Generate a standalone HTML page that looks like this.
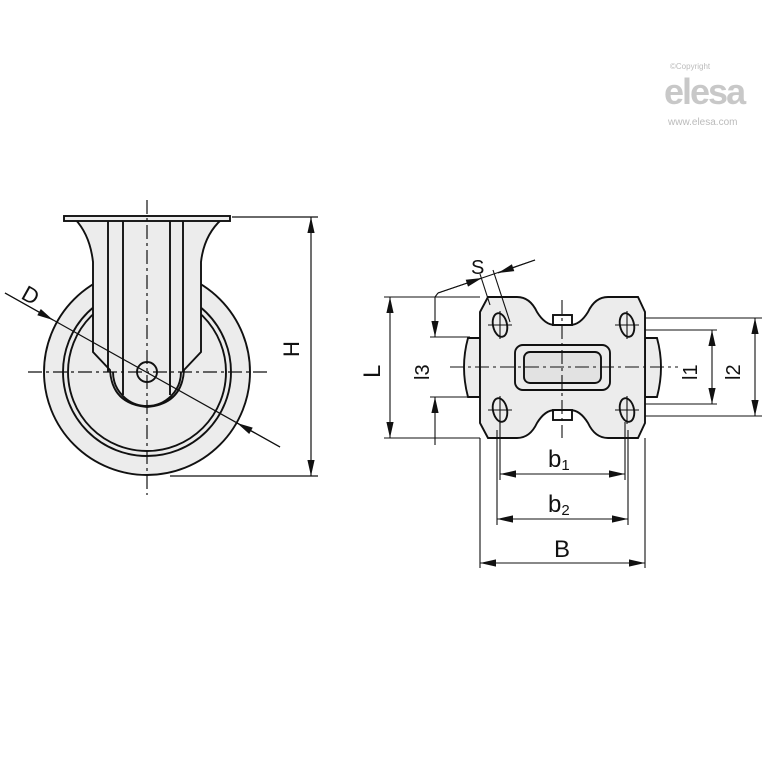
<!DOCTYPE html>
<html><head><meta charset="utf-8"><style>html,body{margin:0;padding:0;background:#fff}svg{display:block}</style></head>
<body>
<svg width="767" height="767" viewBox="0 0 767 767" xmlns="http://www.w3.org/2000/svg" font-family="Liberation Sans, sans-serif">
<defs>
<marker id="b" viewBox="0 0 20 10" refX="20" refY="5" markerWidth="20" markerHeight="8" markerUnits="userSpaceOnUse" orient="auto-start-reverse"><path d="M0,0.5 L20,5 L0,9.5 Z" fill="#111"/></marker>
</defs>
<!-- logo -->
<text x="670" y="69" font-size="8" fill="#bbb">©Copyright</text>
<text x="664" y="104" font-size="36" font-weight="bold" fill="#c8c8c8" letter-spacing="-2">elesa</text>
<text x="668" y="125" font-size="10" fill="#bbb">www.elesa.com</text>

<g stroke="#111" stroke-width="1.9" fill="none">
<circle cx="147" cy="372" r="103" fill="#ececec"/>
<circle cx="147" cy="372" r="84"/>
<circle cx="147" cy="372" r="79"/>
<path d="M75,219 Q90,235 93,262 L93,352 L110,370 Q112,404 147,407 Q182,404 184,370 L201,352 L201,262 Q204,235 222,219 Z" fill="#ececec"/>
<path d="M113,372 A34,34 0 0 0 181,372"/>
<rect x="64" y="216" width="166" height="5" fill="#ececec"/>
<line x1="108" y1="221" x2="108" y2="372"/>
<line x1="123" y1="221" x2="123" y2="395"/>
<line x1="170" y1="221" x2="170" y2="395"/>
<line x1="183" y1="221" x2="183" y2="372"/>
<circle cx="147" cy="372" r="10" fill="#ececec"/>
</g>
<g stroke="#111" stroke-width="1.2" fill="none">
<line x1="147" y1="200" x2="147" y2="495" stroke-dasharray="14,4,3,4"/>
<line x1="28" y1="372" x2="268" y2="372" stroke-dasharray="14,4,3,4"/>
<line x1="5" y1="293" x2="280" y2="447"/>
<line x1="5" y1="293" x2="53" y2="320" marker-end="url(#b)"/>
<line x1="280" y1="447" x2="237" y2="423" marker-end="url(#b)"/>
<line x1="232" y1="217" x2="318" y2="217"/>
<line x1="170" y1="476" x2="318" y2="476"/>
<line x1="311" y1="217" x2="311" y2="476" marker-start="url(#b)" marker-end="url(#b)"/>
</g>
<text x="0" y="0" font-size="22" transform="translate(20,298) rotate(29)" fill="#111">D</text>
<text x="0" y="0" font-size="22" transform="translate(299,357) rotate(-90)" fill="#111">H</text>

<g stroke="#111" stroke-width="1.9" fill="none">
<path d="M480,338 L468,338 Q460,367 468,397 L480,397 Z" fill="#ececec"/>
<path d="M645,338 L657,338 Q665,367 657,397 L645,397 Z" fill="#ececec"/>
<path d="M488,297 L517,297 Q530,297 537,312 Q545,325 555,325 L570,325 Q580,325 588,312 Q595,297 608,297 L638,297 L645,312 L645,423 L638,438 L608,438 Q595,438 588,423 Q580,410 570,410 L555,410 Q545,410 537,423 Q530,438 517,438 L488,438 L480,423 L480,312 Z" fill="#ececec"/>
<rect x="515" y="345" width="95" height="45" rx="8"/>
<rect x="524" y="352" width="77" height="31" rx="6" fill="#e2e2e2"/>
<rect x="553" y="315" width="19" height="10"/>
<rect x="553" y="410" width="19" height="10"/>
<ellipse cx="500" cy="325" rx="7" ry="12" transform="rotate(-12 500 325)"/>
<ellipse cx="627" cy="325" rx="7" ry="12" transform="rotate(-12 627 325)"/>
<ellipse cx="500" cy="410" rx="7" ry="12" transform="rotate(-12 500 410)"/>
<ellipse cx="627" cy="410" rx="7" ry="12" transform="rotate(-12 627 410)"/>
</g>
<g stroke="#111" stroke-width="1.1" fill="none">
<line x1="450" y1="367" x2="678" y2="367" stroke-dasharray="14,4,3,4"/>
<line x1="562" y1="300" x2="562" y2="438" stroke-dasharray="14,4,3,4"/>
<line x1="488" y1="325" x2="512" y2="325"/><line x1="500" y1="311" x2="500" y2="339"/>
<line x1="615" y1="325" x2="639" y2="325"/><line x1="627" y1="311" x2="627" y2="339"/>
<line x1="488" y1="410" x2="512" y2="410"/><line x1="500" y1="396" x2="500" y2="424"/>
<line x1="615" y1="410" x2="639" y2="410"/><line x1="627" y1="396" x2="627" y2="424"/>
<line x1="384" y1="297" x2="480" y2="297"/>
<line x1="384" y1="438" x2="480" y2="438"/>
<line x1="390" y1="297" x2="390" y2="438" marker-start="url(#b)" marker-end="url(#b)"/>
<line x1="430" y1="337" x2="470" y2="337"/>
<line x1="430" y1="397" x2="470" y2="397"/>
<line x1="435" y1="297" x2="435" y2="337" marker-end="url(#b)"/>
<line x1="435" y1="445" x2="435" y2="397" marker-end="url(#b)"/>
<line x1="435" y1="297" x2="438" y2="293"/>
<line x1="438" y1="293" x2="535" y2="260"/>
<line x1="438" y1="293" x2="482" y2="278" marker-end="url(#b)"/>
<line x1="535" y1="260" x2="498" y2="273" marker-end="url(#b)"/>
<line x1="480" y1="274" x2="490" y2="305"/>
<line x1="493" y1="270" x2="510" y2="322"/>
<line x1="645" y1="330" x2="717" y2="330"/>
<line x1="645" y1="404" x2="717" y2="404"/>
<line x1="712" y1="330" x2="712" y2="404" marker-start="url(#b)" marker-end="url(#b)"/>
<line x1="645" y1="318" x2="762" y2="318"/>
<line x1="645" y1="416" x2="762" y2="416"/>
<line x1="755" y1="318" x2="755" y2="416" marker-start="url(#b)" marker-end="url(#b)"/>
<line x1="500" y1="422" x2="500" y2="480"/>
<line x1="625" y1="422" x2="625" y2="480"/>
<line x1="497" y1="430" x2="497" y2="525"/>
<line x1="628" y1="430" x2="628" y2="525"/>
<line x1="480" y1="438" x2="480" y2="568"/>
<line x1="645" y1="438" x2="645" y2="568"/>
<line x1="500" y1="474" x2="625" y2="474" marker-start="url(#b)" marker-end="url(#b)"/>
<line x1="497" y1="519" x2="628" y2="519" marker-start="url(#b)" marker-end="url(#b)"/>
<line x1="480" y1="563" x2="645" y2="563" marker-start="url(#b)" marker-end="url(#b)"/>
</g>
<g fill="#111" font-size="24">
<text x="548" y="467">b<tspan font-size="15" dy="3">1</tspan></text>
<text x="548" y="512">b<tspan font-size="15" dy="3">2</tspan></text>
<text x="554" y="557">B</text>
<text x="471" y="274" font-size="20">S</text>
<text x="0" y="0" transform="translate(380,378) rotate(-90)">L</text>
<text x="0" y="0" font-size="20" transform="translate(429,380) rotate(-90)">l3</text>
<text x="0" y="0" font-size="20" transform="translate(697,380) rotate(-90)">l1</text>
<text x="0" y="0" font-size="20" transform="translate(740,380) rotate(-90)">l2</text>
</g>
</svg>
</body></html>
